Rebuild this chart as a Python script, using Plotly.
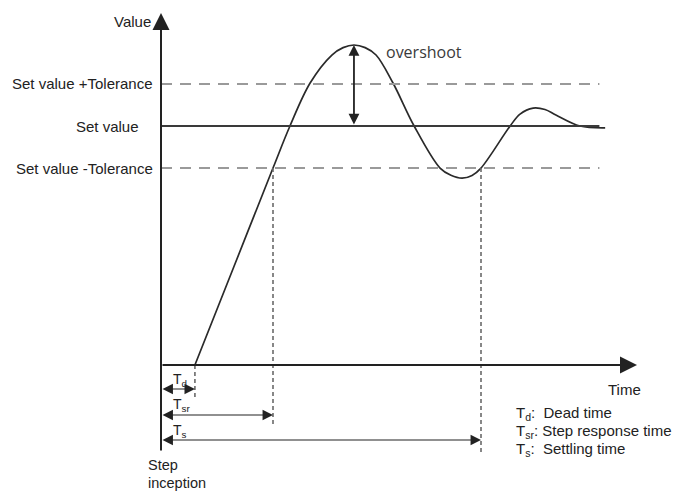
import plotly.graph_objects as go

# ---------------- data ----------------
set_value = 1.0
tolerance = 0.176
dead_time = 1.06
step_response_time = 3.5
settling_time = 10.0
overshoot_time = 6.03
overshoot_peak = 1.339
line_end_time = 13.7

response_time = [1.06, 2.28, 3.50, 4.03, 4.66, 5.34, 5.69, 6.03, 6.38, 6.72, 7.25, 7.91,
                 8.72, 9.06, 9.41, 9.72, 10.00, 10.91, 11.22, 11.63, 12.00,
                 12.34, 13.09, 13.88]
response_value = [0.000, 0.412, 0.824, 1.000, 1.180, 1.297, 1.328, 1.339, 1.328, 1.297, 1.180,
                  1.000, 0.824, 0.794, 0.782, 0.793, 0.824, 1.000, 1.050, 1.075,
                  1.069, 1.046, 1.000, 0.992]

level_labels = ["Set value +Tolerance", "Set value", "Set value -Tolerance"]
legend_labels = ["T<sub>d</sub>:  Dead time",
                 "T<sub>sr</sub>: Step response time",
                 "T<sub>s</sub>:  Settling time"]
dim_labels = ["T<sub>d</sub>", "T<sub>sr</sub>", "T<sub>s</sub>"]

# ---------------- layout helpers ----------------
W, H = 677, 504
X0, Y0 = 161, 365     # pixel position of the origin
SX, SY = 32, 239      # pixels per unit


def v_at(ypix):
    return (Y0 - ypix) / SY


def t_at(xpix):
    return (xpix - X0) / SX


def pxp(x):
    return x / W


def pyp(y):
    return 1 - y / H


FONT = "Liberation Sans, Arial, sans-serif"
INK = "#222222"

fig = go.Figure()

fig.add_trace(go.Scatter(
    x=response_time, y=response_value, mode="lines",
    line=dict(color="#2a2a2a", width=1.7, shape="spline", smoothing=1.0),
    hoverinfo="skip", showlegend=False))

shapes = []
# tolerance band lines and set value line
for lvl, dash, col in [(set_value + tolerance, "11px,8px", "#9a9a9a"),
                       (set_value, "solid", "#3a3a3a"),
                       (set_value - tolerance, "11px,8px", "#9a9a9a")]:
    shapes.append(dict(type="line", xref="x", yref="y", x0=0, x1=line_end_time,
                       y0=lvl, y1=lvl, line=dict(color=col, width=2, dash=dash)))

# dotted verticals
for t, top, bottom in [(dead_time, 0, v_at(398)),
                       (step_response_time, set_value - tolerance, v_at(424)),
                       (settling_time, set_value - tolerance, v_at(453))]:
    shapes.append(dict(type="line", xref="x", yref="y", x0=t, x1=t, y0=top, y1=bottom,
                       line=dict(color="#6a6a6a", width=1.6, dash="4px,3px")))

annotations = []


def arrow(x, y, ax, ay, width, size, both=False, color=INK):
    annotations.append(dict(
        x=x, y=y, ax=ax, ay=ay, xref="x", yref="y", axref="x", ayref="y",
        text="", showarrow=True, arrowhead=2, arrowsize=size, arrowwidth=width,
        arrowcolor=color, arrowside="end+start" if both else "end",
        startarrowhead=2, startarrowsize=size, standoff=0, startstandoff=0))


# axes
arrow(0, v_at(13), 0, v_at(452), 2, 1.7)
arrow(t_at(637), 0, 0, 0, 2, 1.7)

# overshoot arrow
arrow(overshoot_time, overshoot_peak, overshoot_time, set_value, 1.8, 1.2, both=True)

# dimension arrows
for t, ypix in [(dead_time, 389), (step_response_time, 415), (settling_time, 440)]:
    arrow(t, v_at(ypix), 0, v_at(ypix), 1.1, 1.9, both=True)


def text(s, x, y, xanchor="left", size=15, color=INK, family=FONT):
    annotations.append(dict(
        text=s, x=pxp(x), y=pyp(y), xref="paper", yref="paper",
        xanchor=xanchor, yanchor="middle", showarrow=False, align="left",
        font=dict(family=family, size=size, color=color)))


text("Value", 153, 22, xanchor="right")
for lab, lvl, xr in zip(level_labels,
                        [set_value + tolerance, set_value, set_value - tolerance],
                        [155, 141, 155]):
    text(lab, xr, Y0 - lvl * SY, xanchor="right")

text("overshoot", 384, 52, size=16, color="#3a3a3a", family="Open Sans, sans-serif")
text("Time", 606, 389)
text("Step", 146, 465, size=14.5)
text("inception", 146, 483, size=14.5)

for lab, y in zip(dim_labels, [380, 405, 431]):
    text(lab, 171, y, size=14)

for lab, y in zip(legend_labels, [413, 431, 449]):
    text(lab, 514, y, size=15)

fig.update_layout(
    width=W, height=H,
    margin=dict(l=0, r=0, t=0, b=0),
    paper_bgcolor="white", plot_bgcolor="white",
    xaxis=dict(range=[t_at(0), t_at(W)], visible=False, fixedrange=True),
    yaxis=dict(range=[v_at(H), v_at(0)], visible=False, fixedrange=True),
    shapes=shapes, annotations=annotations, showlegend=False)

fig.write_html("out.html", config={"displayModeBar": False},
               post_script="document.body.style.margin='0px';")
